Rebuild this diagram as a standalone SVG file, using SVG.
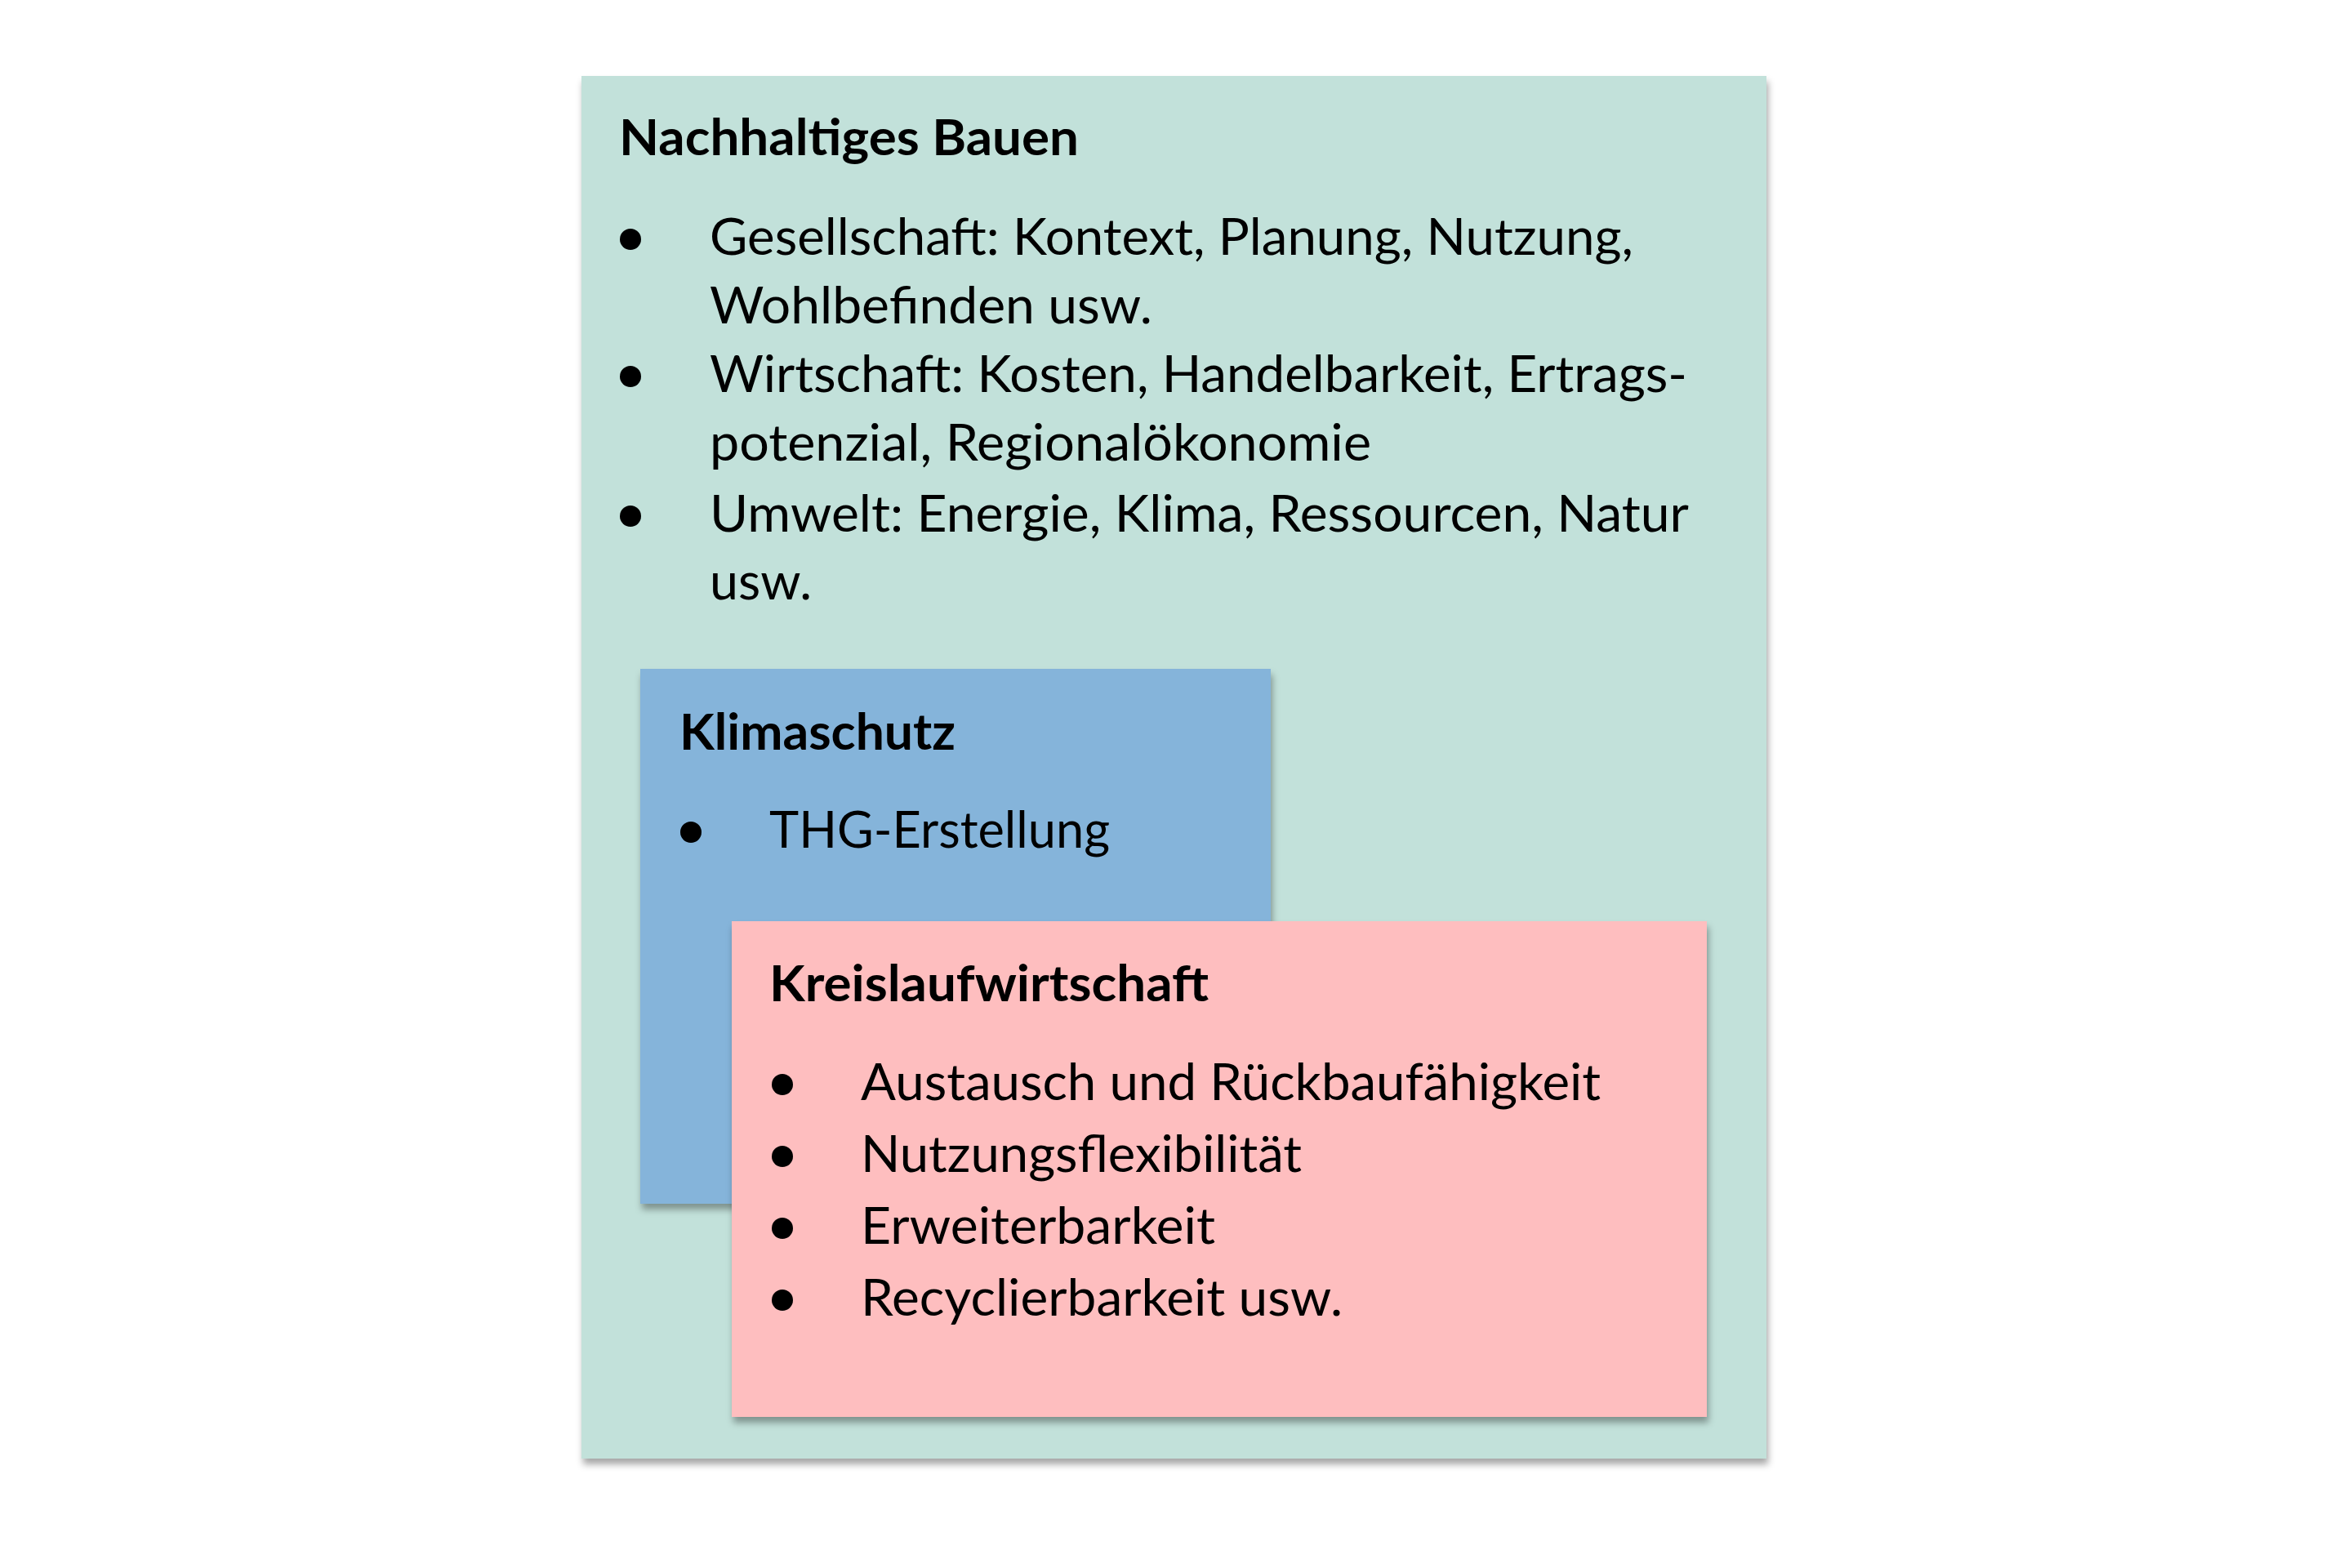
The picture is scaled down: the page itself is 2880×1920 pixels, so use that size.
<svg xmlns="http://www.w3.org/2000/svg" width="2880" height="1920" viewBox="0 0 2880 1920">
<defs>
<filter id="sh" x="-5%" y="-5%" width="112%" height="115%">
<feDropShadow dx="2" dy="7" stdDeviation="4" flood-color="#000" flood-opacity="0.35"/>
</filter>
<style>
text{font-family:Lato,"Open Sans","Liberation Sans",sans-serif;fill:#000;font-size:61px}
.b{font-weight:bold}
.dot{fill:#000}
</style>
</defs>
<rect width="2880" height="1920" fill="#fff"/>
<g id="nachhaltig">
<rect x="712" y="93" width="1451" height="1693" fill="#C2E1DA" filter="url(#sh)"/>
<text class="b" x="758" y="190" textLength="563" lengthAdjust="spacingAndGlyphs">Nachhaltiges Bauen</text>
<circle class="dot" cx="772" cy="293" r="13"/>
<text x="869" y="312" textLength="1131" lengthAdjust="spacingAndGlyphs">Gesellschaft: Kontext, Planung, Nutzung,</text>
<text x="869" y="396" textLength="542" lengthAdjust="spacingAndGlyphs">Wohlbefinden usw.</text>
<circle class="dot" cx="772" cy="461" r="13"/>
<text x="869" y="480" textLength="1197" lengthAdjust="spacingAndGlyphs">Wirtschaft: Kosten, Handelbarkeit, Ertrags-</text>
<text x="869" y="564" textLength="810" lengthAdjust="spacingAndGlyphs">potenzial, Regionalökonomie</text>
<circle class="dot" cx="772" cy="632" r="13"/>
<text x="869" y="651" textLength="1199" lengthAdjust="spacingAndGlyphs">Umwelt: Energie, Klima, Ressourcen, Natur</text>
<text x="869" y="734" textLength="125" lengthAdjust="spacingAndGlyphs">usw.</text>
</g>
<g id="klimaschutz">
<rect x="784" y="819" width="772" height="655" fill="#85B4DA" filter="url(#sh)"/>
<text class="b" x="832" y="918" textLength="338" lengthAdjust="spacingAndGlyphs">Klimaschutz</text>
<circle class="dot" cx="846" cy="1019" r="13"/>
<text x="942" y="1038" textLength="417" lengthAdjust="spacingAndGlyphs">THG-Erstellung</text>
</g>
<g id="kreislaufwirtschaft">
<rect x="896" y="1128" width="1194" height="607" fill="#FEBEBF" filter="url(#sh)"/>
<text class="b" x="942" y="1226" textLength="538" lengthAdjust="spacingAndGlyphs">Kreislaufwirtschaft</text>
<circle class="dot" cx="958" cy="1328" r="13"/>
<text x="1054" y="1347" textLength="906" lengthAdjust="spacingAndGlyphs">Austausch und Rückbaufähigkeit</text>
<circle class="dot" cx="958" cy="1416" r="13"/>
<text x="1054" y="1435" textLength="540" lengthAdjust="spacingAndGlyphs">Nutzungsflexibilität</text>
<circle class="dot" cx="958" cy="1504" r="13"/>
<text x="1054" y="1523" textLength="434" lengthAdjust="spacingAndGlyphs">Erweiterbarkeit</text>
<circle class="dot" cx="958" cy="1592" r="13"/>
<text x="1054" y="1611" textLength="590" lengthAdjust="spacingAndGlyphs">Recyclierbarkeit usw.</text>
</g>
<g id="connectors"/>
</svg>
